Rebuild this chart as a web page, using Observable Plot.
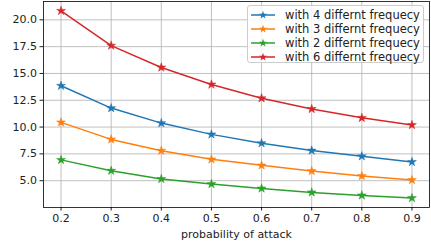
<!DOCTYPE html>
<html><head><meta charset="utf-8">
<script src="https://cdn.jsdelivr.net/npm/d3@7"></script>
<script src="https://cdn.jsdelivr.net/npm/@observablehq/plot@0.6"></script>
<style>
body{margin:0;background:#fff;font-family:"DejaVu Sans",sans-serif;}
#wrap{position:relative;width:431px;height:248px;}
#legend{position:absolute;left:247px;top:5px;width:177px;height:58px;border:1px solid #cccccc;border-radius:3px;background:rgba(255,255,255,0.8);box-sizing:border-box;font-size:11.5px;color:#222;}
.row{position:absolute;left:0;height:14px;display:flex;align-items:center;}
.row svg{margin-left:3px;margin-right:10px;}
</style></head>
<body><div id="wrap"><div id="chart"></div><div id="legend"></div></div>
<script>
const probs = [0.2, 0.3, 0.4, 0.5, 0.6, 0.7, 0.8, 0.9];
const seriesNames = ["with 4 differnt frequecy", "with 3 differnt frequecy", "with 2 differnt frequecy", "with 6 differnt frequecy"];
const seriesColors = ["#1f77b4", "#ff7f0e", "#2ca02c", "#d62728"];
const with4 = [13.85, 11.77, 10.37, 9.32, 8.50, 7.81, 7.28, 6.75];
const with3 = [10.44, 8.85, 7.80, 6.99, 6.43, 5.90, 5.44, 5.06];
const with2 = [6.94, 5.93, 5.16, 4.69, 4.28, 3.91, 3.63, 3.38];
const with6 = [20.84, 17.60, 15.56, 13.97, 12.69, 11.69, 10.86, 10.19];
const yTicks = [5, 7.5, 10, 12.5, 15, 17.5, 20];
const xTicks = [0.2, 0.3, 0.4, 0.5, 0.6, 0.7, 0.8, 0.9];
const xLabel = "probability of attack";

const allSeries = [with4, with3, with2, with6];
const data = [];
allSeries.forEach((vals, i) => vals.forEach((v, j) => data.push({p: probs[j], v, s: seriesNames[i]})));

const chart = Plot.plot({
  width: 431, height: 248,
  marginLeft: 43, marginRight: 2, marginTop: 1, marginBottom: 41,
  style: {fontFamily: "DejaVu Sans", fontSize: "11px", color: "#222"},
  x: {domain: [0.165, 0.935]},
  y: {domain: [2.5, 21.71]},
  color: {domain: seriesNames, range: seriesColors},
  marks: [
    Plot.gridX(xTicks, {stroke: "#b0b0b0", strokeOpacity: 1, strokeWidth: 0.8}),
    Plot.gridY(yTicks, {stroke: "#b0b0b0", strokeOpacity: 1, strokeWidth: 0.8}),
    Plot.axisX({ticks: xTicks, tickFormat: d3.format(".1f"), tickSize: 3.5, tickPadding: 3, label: xLabel, labelAnchor: "center", labelArrow: "none", labelOffset: 30, fill: "#222"}),
    Plot.axisY({ticks: yTicks, tickFormat: d3.format(".1f"), tickSize: 3.5, tickPadding: 3, label: null, fill: "#222"}),
    Plot.line(data, {x: "p", y: "v", z: "s", stroke: "s", strokeWidth: 1.5}),
    Plot.dot(data, {x: "p", y: "v", fill: "s", symbol: "star", r: 2.8, stroke: "s", strokeWidth: 0.5}),
    Plot.frame({stroke: "#000", strokeWidth: 0.8})
  ]
});
document.getElementById("chart").appendChild(chart);

const leg = document.getElementById("legend");
seriesNames.forEach((name, i) => {
  const row = document.createElement("div");
  row.className = "row";
  row.style.top = (2 + i * 14) + "px";
  const c = seriesColors[i];
  const star = d3.symbol(d3.symbolStar, 2.6 * 2.6 * Math.PI)();
  row.innerHTML = `<svg width="24" height="14"><line x1="0" x2="24" y1="7" y2="7" stroke="${c}" stroke-width="1.5"/><path d="${star}" transform="translate(12,7)" fill="${c}"/></svg><span>${name}</span>`;
  leg.appendChild(row);
});
</script>
</body></html>
